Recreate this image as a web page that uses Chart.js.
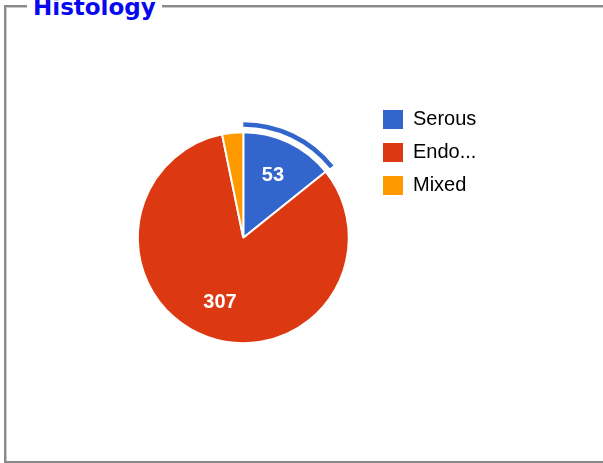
<!DOCTYPE html>
<html>
<head>
<meta charset="utf-8">
<script src="https://cdn.jsdelivr.net/npm/chart.js@4/dist/chart.umd.min.js"></script>
<style>
  html, body { margin: 0; padding: 0; background: #fff; width: 603px; height: 463px; overflow: hidden; }
  #frame {
    position: absolute; left: 4px; top: 5px; width: 640px; height: 454px;
    border: 2px solid #8a8a8a; border-right: none;
    box-shadow: inset 1px 1px 0 #c9c9c9;
  }
  #caption {
    position: absolute; left: 27px; top: -4.5px; padding: 0 6px; background: #fff;
    font: bold 23px/23px "DejaVu Sans", Verdana, sans-serif; color: #0808f0; white-space: nowrap;
  }
  #c { position: absolute; left: 0; top: 0; }
</style>
</head>
<body>
<div id="frame"></div>
<div id="caption">Histology</div>
<canvas id="c" width="603" height="463"></canvas>
<script>
// Histology breakdown
const categories = ['Serous', 'Endo...', 'Mixed'];
const counts = [53, 307, 12];
const sliceColors = ['#3366cc', '#dc3912', '#ff9900'];
const selectedSlice = 0; // slice outlined by the selection ring

const ringColors = sliceColors.map((c, i) => (i === selectedSlice ? c : 'rgba(0,0,0,0)'));

// White value text inside each slice that is wide enough to hold it
const sliceLabels = {
  id: 'sliceLabels',
  afterDatasetsDraw(chart) {
    const meta = chart.getDatasetMeta(2);
    const ctx = chart.ctx;
    ctx.save();
    ctx.font = 'bold 20px "Liberation Sans", Arial, sans-serif';
    ctx.fillStyle = '#ffffff';
    ctx.textAlign = 'center';
    ctx.textBaseline = 'middle';
    meta.data.forEach((arc, i) => {
      const p = arc.getProps(['x', 'y', 'startAngle', 'endAngle', 'outerRadius'], true);
      if (p.endAngle - p.startAngle < 0.3) return;
      const mid = (p.startAngle + p.endAngle) / 2;
      const r = p.outerRadius * 0.65;
      ctx.fillText(String(counts[i]), p.x + Math.cos(mid) * r, p.y + Math.sin(mid) * r);
    });
    ctx.restore();
  }
};

new Chart(document.getElementById('c'), {
  type: 'pie',
  data: {
    labels: categories,
    datasets: [
      // thin selection ring, gap, then the pie itself
      { data: counts, backgroundColor: ringColors, borderWidth: 0, weight: 4.5 },
      { data: counts, backgroundColor: 'rgba(0,0,0,0)', borderWidth: 0, weight: 5.5 },
      { data: counts, backgroundColor: sliceColors, borderColor: '#ffffff', borderWidth: 2, weight: 105.5 }
    ]
  },
  options: {
    responsive: false,
    animation: false,
    events: [],
    radius: 115.5,
    layout: { padding: { left: 116.6, right: 123, top: 96.5, bottom: 84.1 } },
    plugins: {
      tooltip: { enabled: false },
      legend: {
        position: 'right',
        align: 'start',
        maxWidth: 110,
        labels: {
          boxWidth: 20,
          boxHeight: 19,
          padding: 13,
          color: '#222222',
          font: { family: '"Liberation Sans", Arial, sans-serif', size: 20 },
          generateLabels: () => categories.map((text, i) => ({
            text,
            fillStyle: sliceColors[i],
            strokeStyle: sliceColors[i],
            lineWidth: 0,
            hidden: false,
            index: i
          }))
        }
      }
    }
  },
  plugins: [sliceLabels]
});
</script>
</body>
</html>
